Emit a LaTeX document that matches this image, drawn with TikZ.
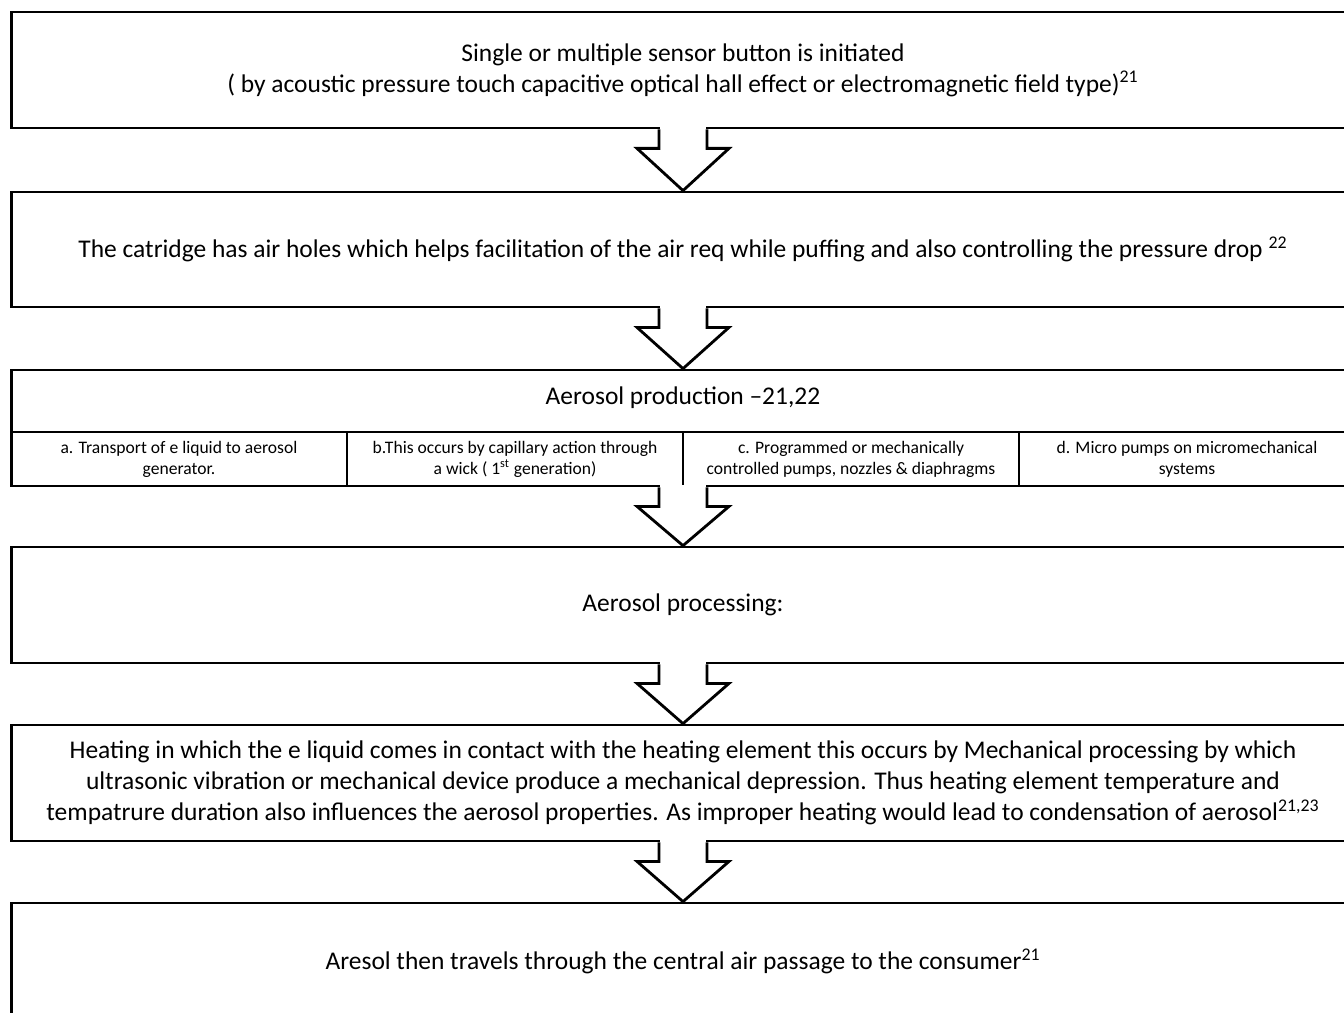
\documentclass[tikz,border=0pt]{standalone}
\usepackage{fontspec}
\setmainfont{Carlito}
\usetikzlibrary{calc}

\tikzset{
  stepbox/.style={draw, line width=1.6pt, minimum width=26.88cm, inner sep=0pt, align=center, font=\fontsize{14.5}{17.6}\selectfont},
  cellbox/.style={draw, line width=1.6pt, minimum width=6.72cm, minimum height=1.08cm, inner sep=0pt, align=center, font=\fontsize{10}{12}\selectfont},
  blockarrow/.style={draw, line width=1.6pt, line join=miter},
}

% block arrow from the bottom of one box to the top of the next
\newcommand{\flowarrow}[2]{%
  \fill[white] ($(#1.south)+(-23,-2)$) rectangle ($(#1.south)+(23,2)$);
  \draw[blockarrow] ($(#1.south)+(-24,0)$) -- ++(0,19) -- ++(-22,0) -- (#2.north)
    -- ($(#1.south)+(46,19)$) -- ++(-22,0) -- ++(0,-19);
}

\begin{document}
\begin{tikzpicture}[x=0.02cm, y=-0.02cm]
\useasboundingbox (0,0) rectangle (1344,1012);
\clip (0,0) rectangle (1344,1012);
\fill[white] (0,0) rectangle (1344,1012);

% Draw the steps
\node[stepbox, minimum height=2.32cm] (sensor) at (683,70) {Single or multiple sensor button is initiated\\( by acoustic pressure touch capacitive optical hall effect or electromagnetic field type)\textsuperscript{21}};
\node[stepbox, minimum height=2.30cm] (cartridge) at (683,249.5) {The catridge has air holes which helps facilitation of the air req while puffing and also controlling the pressure drop \textsuperscript{22}};
\node[stepbox, minimum height=2.32cm] (production) at (683,428) {};
\node[font=\fontsize{14.5}{17.6}\selectfont] (prodtitle) at (683,398) {Aerosol production –21,22};
\node[stepbox, minimum height=2.32cm] (processing) at (683,605) {Aerosol processing:};
\node[stepbox, minimum height=2.32cm] (heating) at (683,783) {Heating  in which the e liquid comes in contact with the heating element  this occurs by Mechanical processing by which\\ultrasonic vibration or mechanical device produce a mechanical depression. Thus heating element temperature and\\tempatrure duration also influences the aerosol properties. As improper heating would lead to condensation of aerosol\textsuperscript{21,23}};
\node[stepbox, minimum height=2.32cm] (consumer) at (683,961) {Aresol then travels through the central air passage to the consumer\textsuperscript{21}};

% Draw the four cells under the production title
\node[cellbox] (transport) at (179,459) {a. Transport of e liquid to aerosol\\generator.};
\node[cellbox] (capillary) at (515,459) {b.This occurs by capillary action through\\a wick ( 1\textsuperscript{st} generation)};
\node[cellbox] (pumps) at (851,459) {c. Programmed or mechanically\\controlled pumps, nozzles \& diaphragms};
\node[cellbox] (micro) at (1187,459) {d. Micro pumps on micromechanical\\systems};

% Draw the arrows
\flowarrow{sensor}{cartridge}
\flowarrow{cartridge}{production}
\flowarrow{production}{processing}
\flowarrow{processing}{heating}
\flowarrow{heating}{consumer}
\end{tikzpicture}
\end{document}
